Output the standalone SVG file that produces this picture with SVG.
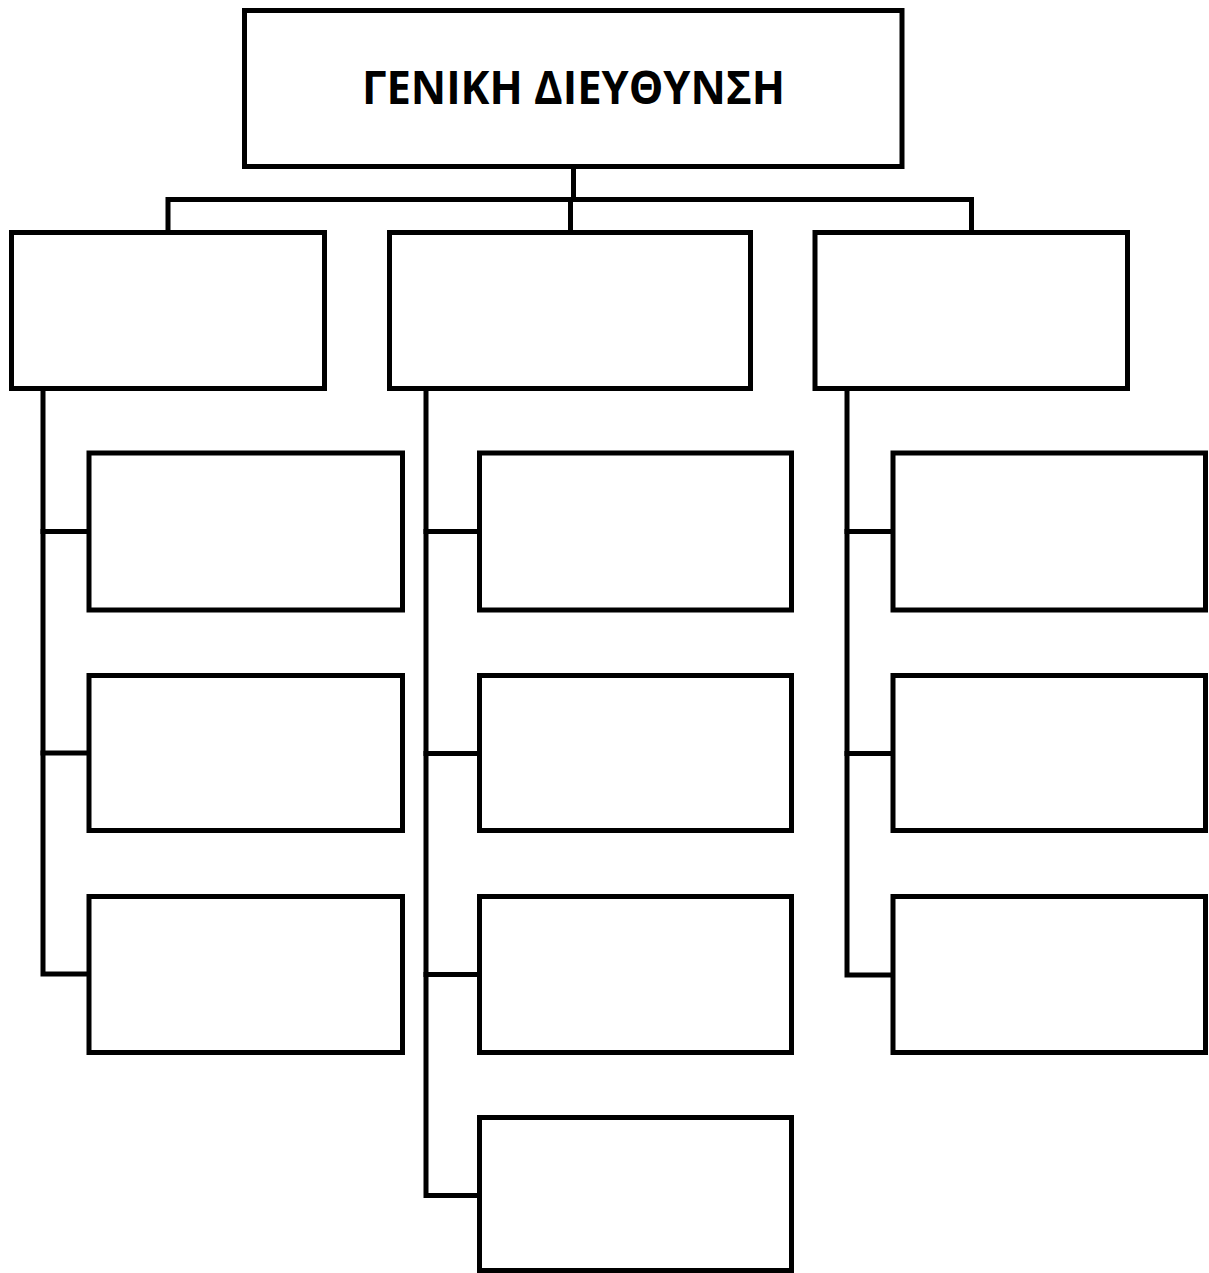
<svg xmlns="http://www.w3.org/2000/svg" width="1209" height="1273" viewBox="0 0 1209 1273">
<style>
.box{fill:#fff;stroke:#000;stroke-width:5}
.ln{fill:none;stroke:#000;stroke-width:5;stroke-linejoin:miter;stroke-linecap:square}
.t{font-family:"Open Sans","Liberation Sans",sans-serif;font-weight:bold;font-size:46px;fill:#000}
</style>
<rect width="1209" height="1273" fill="#fff"/>
<g id="connectors">
<path class="ln" d="M573.5,168 V199.5"/>
<path class="ln" d="M168,230 V199.5 H971.5 V230"/>
<path class="ln" d="M570.5,199.5 V230"/>
<path class="ln" d="M43,390 V974 H89"/>
<path class="ln" d="M43,531.5 H89"/>
<path class="ln" d="M43,753 H89"/>
<path class="ln" d="M426,390 V1195.5 H479"/>
<path class="ln" d="M426,531.5 H479"/>
<path class="ln" d="M426,753.5 H479"/>
<path class="ln" d="M426,974.5 H479"/>
<path class="ln" d="M847,390 V975 H893"/>
<path class="ln" d="M847,531.5 H893"/>
<path class="ln" d="M847,753.5 H893"/>
</g>
<g id="n0">
<rect class="box" x="244.5" y="10.5" width="657.5" height="156"/>
<text class="t" x="573.5" y="103.5" text-anchor="middle" textLength="423" lengthAdjust="spacingAndGlyphs">ΓΕΝΙΚΗ ΔΙΕΥΘΥΝΣΗ</text>
</g>
<g id="n1"><rect class="box" x="11.5" y="232.5" width="313" height="156"/></g>
<g id="n2"><rect class="box" x="389.5" y="232.5" width="361" height="156"/></g>
<g id="n3"><rect class="box" x="815" y="232.5" width="312.5" height="156"/></g>
<g id="n1a"><rect class="box" x="89" y="453" width="313.5" height="157"/></g>
<g id="n1b"><rect class="box" x="89" y="675.5" width="313.5" height="155"/></g>
<g id="n1c"><rect class="box" x="89" y="896.5" width="313.5" height="156"/></g>
<g id="n2a"><rect class="box" x="479.5" y="453" width="312" height="157"/></g>
<g id="n2b"><rect class="box" x="479.5" y="675.5" width="312" height="155"/></g>
<g id="n2c"><rect class="box" x="479.5" y="896.5" width="312" height="156"/></g>
<g id="n2d"><rect class="box" x="479.5" y="1117.5" width="312" height="153"/></g>
<g id="n3a"><rect class="box" x="893" y="453" width="312.5" height="157"/></g>
<g id="n3b"><rect class="box" x="893" y="675.5" width="312.5" height="155"/></g>
<g id="n3c"><rect class="box" x="893" y="896.5" width="312.5" height="156"/></g>
</svg>
